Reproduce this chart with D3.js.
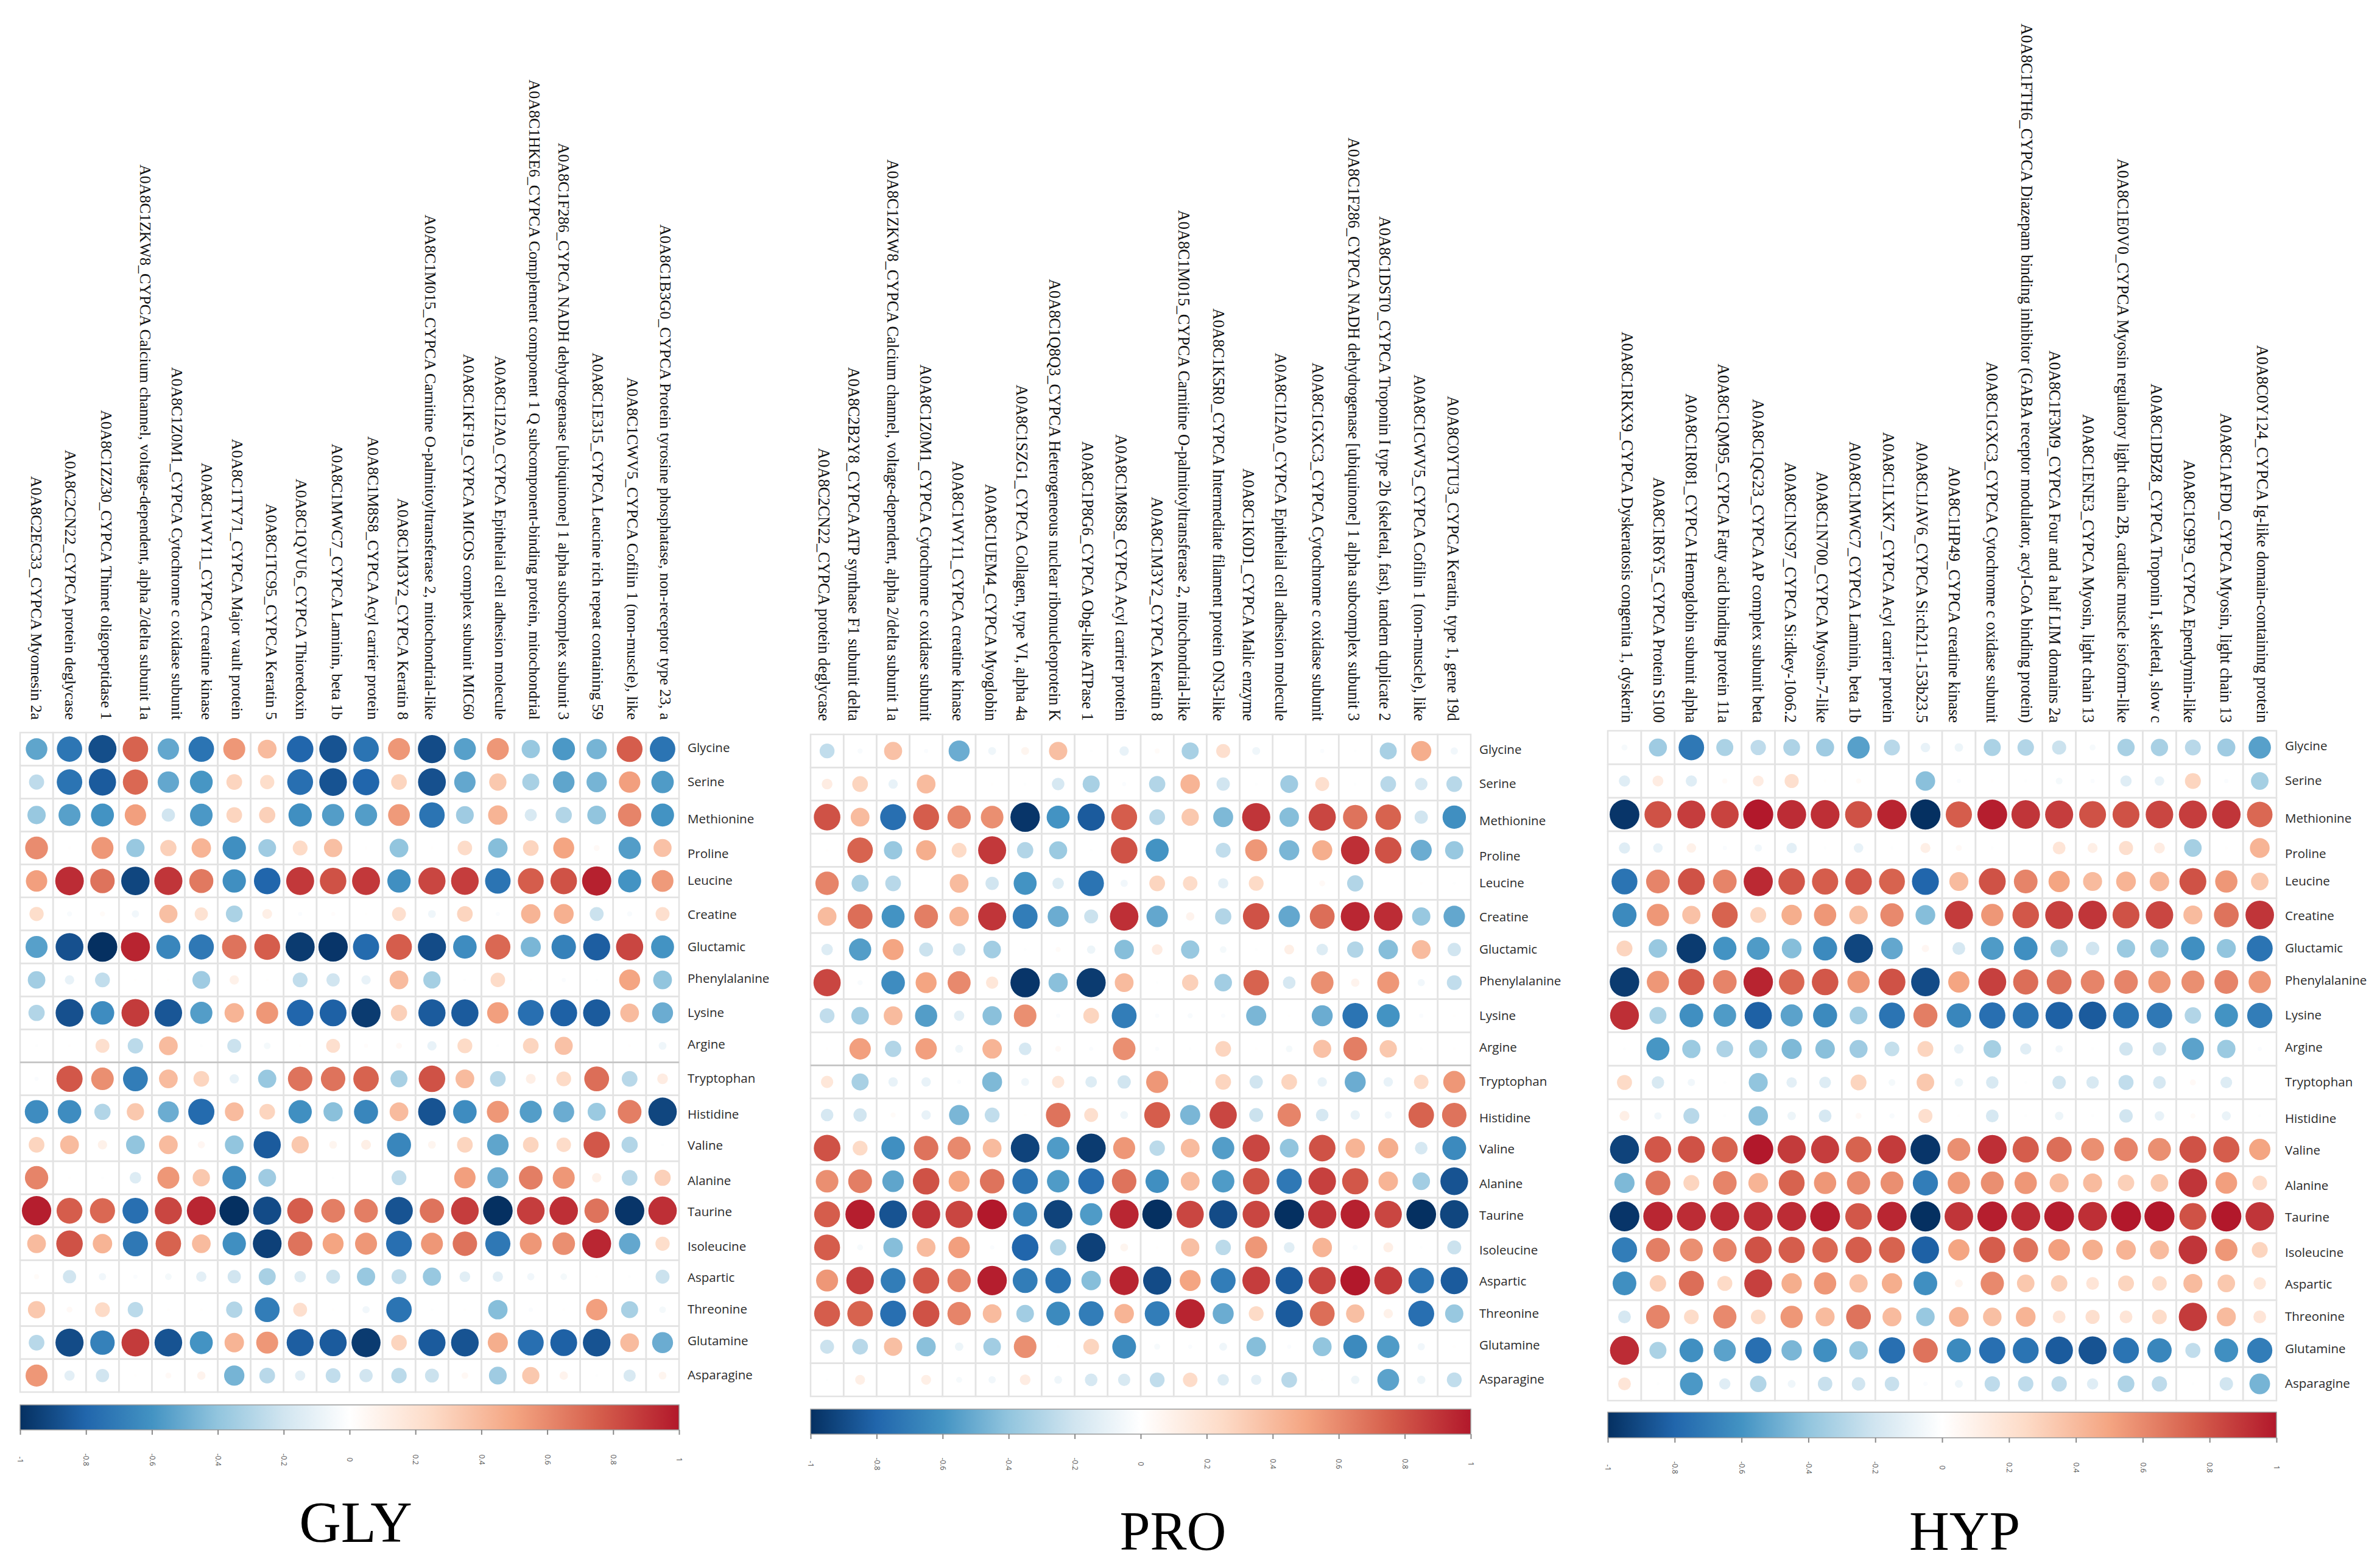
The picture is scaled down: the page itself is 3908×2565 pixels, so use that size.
<!DOCTYPE html>
<html>
<head>
<meta charset="utf-8">
<script src="https://cdn.jsdelivr.net/npm/d3@7"></script>
<style>
  html, body { margin: 0; background: #fff; }
  svg { display: block; }
</style>
</head>
<body>
<div id="chart"></div>
<script>
const aminoAcids = ["Glycine", "Serine", "Methionine", "Proline", "Leucine", "Creatine", "Gluctamic", "Phenylalanine", "Lysine", "Argine", "Tryptophan", "Histidine", "Valine", "Alanine", "Taurine", "Isoleucine", "Aspartic", "Threonine", "Glutamine", "Asparagine"];

const glyProteins = [
  "A0A8C2EC33_CYPCA Myomesin 2a",
  "A0A8C2CN22_CYPCA protein deglycase",
  "A0A8C1ZZ30_CYPCA Thimet oligopeptidase 1",
  "A0A8C1ZKW8_CYPCA Calcium channel, voltage-dependent, alpha 2/delta subunit 1a",
  "A0A8C1Z0M1_CYPCA Cytochrome c oxidase subunit",
  "A0A8C1WY11_CYPCA creatine kinase",
  "A0A8C1TY71_CYPCA Major vault protein",
  "A0A8C1TC95_CYPCA Keratin 5",
  "A0A8C1QVU6_CYPCA Thioredoxin",
  "A0A8C1MWC7_CYPCA Laminin, beta 1b",
  "A0A8C1M8S8_CYPCA Acyl carrier protein",
  "A0A8C1M3Y2_CYPCA Keratin 8",
  "A0A8C1M015_CYPCA Carnitine O-palmitoyltransferase 2, mitochondrial-like",
  "A0A8C1KF19_CYPCA MICOS complex subunit MIC60",
  "A0A8C1I2A0_CYPCA Epithelial cell adhesion molecule",
  "A0A8C1HKE6_CYPCA Complement component 1 Q subcomponent-binding protein, mitochondrial",
  "A0A8C1F286_CYPCA NADH dehydrogenase [ubiquinone] 1 alpha subcomplex subunit 3",
  "A0A8C1E315_CYPCA Leucine rich repeat containing 59",
  "A0A8C1CWV5_CYPCA Cofilin 1 (non-muscle), like",
  "A0A8C1B3G0_CYPCA Protein tyrosine phosphatase, non-receptor type 23, a"
];

const proProteins = [
  "A0A8C2CN22_CYPCA protein deglycase",
  "A0A8C2B2Y8_CYPCA ATP synthase F1 subunit delta",
  "A0A8C1ZKW8_CYPCA Calcium channel, voltage-dependent, alpha 2/delta subunit 1a",
  "A0A8C1Z0M1_CYPCA Cytochrome c oxidase subunit",
  "A0A8C1WY11_CYPCA creatine kinase",
  "A0A8C1UEM4_CYPCA Myoglobin",
  "A0A8C1SZG1_CYPCA Collagen, type VI, alpha 4a",
  "A0A8C1Q8Q3_CYPCA Heterogeneous nuclear ribonucleoprotein K",
  "A0A8C1P8G6_CYPCA Obg-like ATPase 1",
  "A0A8C1M8S8_CYPCA Acyl carrier protein",
  "A0A8C1M3Y2_CYPCA Keratin 8",
  "A0A8C1M015_CYPCA Carnitine O-palmitoyltransferase 2, mitochondrial-like",
  "A0A8C1K5R0_CYPCA Intermediate filament protein ON3-like",
  "A0A8C1K0D1_CYPCA Malic enzyme",
  "A0A8C1I2A0_CYPCA Epithelial cell adhesion molecule",
  "A0A8C1GXC3_CYPCA Cytochrome c oxidase subunit",
  "A0A8C1F286_CYPCA NADH dehydrogenase [ubiquinone] 1 alpha subcomplex subunit 3",
  "A0A8C1DST0_CYPCA Troponin I type 2b (skeletal, fast), tandem duplicate 2",
  "A0A8C1CWV5_CYPCA Cofilin 1 (non-muscle), like",
  "A0A8C0YTU3_CYPCA Keratin, type 1, gene 19d"
];

const hypProteins = [
  "A0A8C1RKX9_CYPCA Dyskeratosis congenita 1, dyskerin",
  "A0A8C1R6Y5_CYPCA Protein S100",
  "A0A8C1R081_CYPCA Hemoglobin subunit alpha",
  "A0A8C1QM95_CYPCA Fatty acid binding protein 11a",
  "A0A8C1QG23_CYPCA AP complex subunit beta",
  "A0A8C1NC97_CYPCA Si:dkey-10o6.2",
  "A0A8C1N700_CYPCA Myosin-7-like",
  "A0A8C1MWC7_CYPCA Laminin, beta 1b",
  "A0A8C1LXK7_CYPCA Acyl carrier protein",
  "A0A8C1JAV6_CYPCA Si:ch211-153b23.5",
  "A0A8C1HP49_CYPCA creatine kinase",
  "A0A8C1GXC3_CYPCA Cytochrome c oxidase subunit",
  "A0A8C1FTH6_CYPCA Diazepam binding inhibitor (GABA receptor modulator, acyl-CoA binding protein)",
  "A0A8C1F3M9_CYPCA Four and a half LIM domains 2a",
  "A0A8C1ENE3_CYPCA Myosin, light chain 13",
  "A0A8C1E0V0_CYPCA Myosin regulatory light chain 2B, cardiac muscle isoform-like",
  "A0A8C1DBZ8_CYPCA Troponin I, skeletal, slow c",
  "A0A8C1C9F9_CYPCA Ependymin-like",
  "A0A8C1AFD0_CYPCA Myosin, light chain 13",
  "A0A8C0Y124_CYPCA Ig-like domain-containing protein"
];

// one row per amino acid, one column per protein
const glyValues = [
  [-.53, -.73, -.89, .74, -.52, -.74, .55, .4, -.8, -.87, -.74, .55, -.9, -.55, .55, -.38, -.58, -.47, .76, -.74],
  [-.26, -.74, -.84, .72, -.52, -.59, .28, .23, -.76, -.87, -.8, .28, -.88, -.52, .34, -.33, -.53, -.47, .52, -.57],
  [-.38, -.55, -.6, .52, -.2, -.58, .28, .3, -.62, -.56, -.56, .54, -.74, -.36, .43, -.17, -.3, -.4, .62, -.6],
  [.59, .01, .55, -.38, .3, .43, -.62, -.36, .25, .38, .01, -.4, .01, .24, -.43, .28, .5, .04, -.56, .37],
  [.52, .93, .68, -.92, .9, .66, -.62, -.8, .89, .8, .89, -.62, .84, .87, -.74, .76, .8, .97, -.6, .54],
  [.23, -.03, .03, -.06, .38, .2, -.32, .11, -.02, .02, .01, .22, -.07, .28, -.02, .43, .45, -.22, -.03, .22],
  [-.55, -.88, -1, .96, -.66, -.72, .68, .76, -.96, -.98, -.78, .76, -.9, -.63, .72, -.46, -.68, -.83, .84, -.6],
  [-.35, -.1, -.25, .01, .01, -.36, .1, .01, -.25, -.2, -.1, .4, -.34, -.01, .24, .01, -.02, -.01, .5, -.4],
  [-.3, -.88, -.63, .88, -.86, -.56, .43, .55, -.8, -.82, -.96, .3, -.84, -.84, .52, -.76, -.82, -.84, .4, -.5],
  [-.01, .01, .22, -.27, .4, -.01, -.22, -.05, .01, .22, .02, .04, -.1, .25, -.01, .28, .37, 0, .01, -.07],
  [-.02, .78, .58, -.7, .4, .28, -.1, -.38, .68, .68, .74, -.33, .8, .4, -.28, .11, .25, .7, -.28, .13],
  [-.63, -.63, -.3, .34, -.5, -.78, .4, .28, -.62, -.42, -.66, .4, -.87, -.63, .55, -.56, -.5, -.37, .64, -.92],
  [.28, .4, .1, -.4, .4, .06, -.4, -.84, .34, .07, .11, -.66, .07, .28, -.53, .28, .24, .78, -.3, -.01],
  [.62, .01, -.01, -.15, .55, .34, -.64, -.36, 0, -.01, 0, -.25, 0, .52, -.5, .64, .55, .1, -.28, .3],
  [.98, .76, .72, -.76, .84, .95, -1, -.9, .76, .64, .64, -.87, .68, .87, -1, .87, .92, .68, -.98, .92],
  [.4, .8, .43, -.72, .74, .4, -.62, -.94, .68, .5, .55, -.76, .55, .68, -.72, .55, .58, .95, -.52, .23],
  [.03, -.2, -.06, -.02, -.05, -.12, -.2, -.33, -.15, -.22, -.38, -.25, -.38, -.13, -.12, -.06, -.05, .01, -.01, -.22],
  [.34, .04, .25, -.27, .01, .01, -.3, -.7, .22, .01, -.06, -.74, -.01, .01, -.43, -.02, .01, .52, -.33, -.05],
  [-.28, -.9, -.68, .88, -.87, -.6, .43, .55, -.83, -.84, -.96, .28, -.84, -.87, .46, -.76, -.82, -.87, .4, -.5],
  [.55, -.12, -.2, .01, .04, .08, -.47, -.28, -.12, -.25, -.2, -.27, -.22, .05, -.36, .34, .08, -.01, -.17, .07]
];

const proValues = [
  [-.25, -.03, .37, -.02, -.5, -.07, .07, .38, -.01, -.1, .03, -.33, .22, -.07, 0, -.02, -.01, -.33, .46, -.06],
  [.13, .28, -.1, .4, 0, .01, -.01, -.18, -.33, -.02, -.3, .43, -.2, -.01, -.36, .22, -.01, -.28, -.18, -.28],
  [.8, .4, -.76, .76, .62, .58, -.98, -.6, -.84, .76, -.28, .34, -.45, .9, -.43, .84, .68, .74, -.2, -.62],
  [.01, .74, -.38, .46, .25, .89, -.3, -.37, -.01, .8, -.6, 0, -.25, .55, -.46, .46, .92, .8, -.5, -.38],
  [.62, -.33, -.28, 0, .4, -.2, -.6, -.15, -.74, -.06, .28, .24, -.12, .25, 0, .04, -.3, 0, .01, -.01],
  [.4, .7, -.6, .64, .43, .9, -.7, -.5, -.22, .92, -.52, .08, -.3, .8, -.52, .7, .95, .93, -.38, -.52],
  [-.15, -.56, .5, -.22, -.18, -.35, -.01, .03, -.08, -.43, .13, -.38, -.05, -.01, .11, -.15, -.3, -.43, .4, -.2],
  [.84, -.03, -.63, .5, .6, .17, -.98, -.42, -.96, .4, -.01, .3, -.35, .74, -.18, .58, .08, .55, -.06, -.25],
  [-.25, -.35, .4, -.56, -.12, -.42, .58, -.02, .28, -.7, -.02, -.03, -.02, -.46, .01, -.5, -.74, -.6, -.02, .01],
  [.01, .52, -.3, .52, -.07, .43, -.18, .04, -.02, .58, -.02, -.01, .28, .01, -.05, .37, .64, .34, -.01, .01],
  [.17, -.33, -.1, -.1, -.02, -.45, -.07, .17, -.15, -.2, .55, .01, .28, -.2, .28, -.1, -.5, -.1, .24, .55],
  [-.18, -.2, .03, -.1, -.46, -.25, .01, .68, .22, -.07, .76, -.46, .84, -.22, .62, -.18, -.1, -.06, .74, .68],
  [.8, .25, -.62, .68, .6, .4, -.93, -.57, -.96, .55, -.27, .4, -.56, .84, -.4, .8, .43, .46, -.18, -.64],
  [.58, .64, -.53, .8, .5, .68, -.74, -.57, -.76, .68, -.62, .4, -.57, .8, -.72, .86, .78, .43, -.35, -.87],
  [.76, .98, -.87, .9, .84, 1, -.66, -.93, -.57, .95, -1, .84, -.9, .84, -1, .9, .97, .84, -1, -.92],
  [.76, -.04, -.43, .4, .52, -.02, -.8, -.3, -.94, .07, .01, .38, -.27, .55, -.13, .43, -.03, .11, -.01, -.22],
  [.55, .86, -.7, .78, .62, .98, -.7, -.74, -.43, .96, -.9, .5, -.7, .87, -.84, .84, 1, .88, -.74, -.84],
  [.76, .74, -.76, .8, .62, .4, -.35, -.64, -.7, .43, -.7, .96, -.5, .25, -.84, .7, .38, .1, -.76, -.38],
  [-.22, -.28, .38, -.42, -.08, -.35, .58, .01, .28, -.64, -.04, -.02, -.07, -.43, -.02, -.4, -.64, -.57, -.06, .01],
  [-.01, .11, 0, .11, -.04, -.06, .13, -.07, -.18, -.17, -.25, .24, -.15, -.12, -.28, .01, -.08, -.54, -.08, -.25]
];

const hypValues = [
  [-.04, -.36, -.72, -.32, -.26, -.31, -.36, -.55, -.28, -.1, -.08, -.32, -.3, -.22, -.04, -.33, -.33, -.28, -.36, -.55],
  [-.14, .13, -.14, .03, .13, .22, .01, .03, 0, -.42, -.02, .01, -.01, -.05, -.02, -.14, -.1, .28, -.02, -.34],
  [-.98, .8, .87, .85, 1, .93, .92, .8, .96, -1, .76, .98, .9, .87, .8, .8, .84, .87, .9, .72],
  [-.14, -.1, .1, -.02, -.06, -.12, -.01, -.1, -.01, .11, .04, -.01, 0, .18, .11, .22, .13, -.34, .01, .43],
  [-.74, .62, .8, .62, .94, .78, .76, .78, .74, -.8, .4, .8, .62, .5, .4, .43, .42, .8, .55, .34],
  [-.64, .55, .37, .74, .28, .46, .55, .38, .6, -.43, .88, .55, .78, .86, .9, .8, .84, .4, .68, .9],
  [.28, -.38, -.96, -.6, -.57, -.43, -.64, -.92, -.52, .06, -.18, -.57, -.62, -.33, -.2, -.37, -.37, -.62, -.4, -.74],
  [-.96, .55, .76, .62, .96, .72, .78, .55, .8, -.9, .5, .86, .7, .68, .62, .62, .55, .58, .62, .55],
  [.92, -.32, -.62, -.57, -.82, -.54, -.64, -.35, -.74, .64, -.66, -.76, -.74, -.82, -.84, -.74, -.72, -.3, -.6, -.7],
  [-.01, -.59, -.37, -.31, -.37, -.45, -.42, -.36, -.24, .28, -.1, -.34, -.14, -.06, -.01, -.2, -.2, -.54, -.37, -.02],
  [.25, -.17, -.06, -.01, -.4, -.12, -.15, .28, -.05, .34, -.08, -.17, -.01, -.2, -.17, -.25, -.18, .04, -.15, 0],
  [.11, -.06, -.28, -.01, -.42, -.08, -.18, .04, -.03, .22, .01, -.18, -.01, -.08, -.01, -.2, -.1, .03, -.09, -.01],
  [-.93, .78, .8, .74, 1, .88, .87, .74, .88, -.98, .58, .92, .76, .7, .58, .62, .58, .8, .76, .5],
  [-.45, .68, .28, .62, .43, .74, .55, .6, .58, -.7, .55, .58, .55, .4, .4, .3, .34, .9, .52, .24],
  [-.98, .95, .93, .93, .92, .93, .98, .78, .95, -1, .9, .98, .93, .98, .92, 1, 1, .8, 1, .9],
  [-.7, .64, .58, .62, .8, .76, .72, .76, .74, -.82, .5, .76, .68, .52, .46, .43, .4, .9, .55, .28],
  [-.62, .3, .7, .25, .86, .46, .55, .37, .46, -.62, .07, .6, .34, .3, .18, .28, .24, .4, .34, .17],
  [-.18, .62, .24, .6, .24, .55, .4, .68, .4, -.38, .43, .38, .43, .18, .22, .18, .24, .88, .4, .18],
  [.93, -.32, -.62, -.54, -.76, -.46, -.62, -.38, -.76, .68, -.64, -.76, -.74, -.84, -.87, -.74, -.66, -.25, -.62, -.7],
  [.18, -.01, -.58, -.14, -.3, -.07, -.23, -.2, -.23, -.02, -.07, -.26, -.26, -.26, -.14, -.31, -.26, -.01, -.2, -.47]
];

const legendTicks = [-1, -0.8, -0.6, -0.4, -0.2, 0, 0.2, 0.4, 0.6, 0.8, 1];
const colorStops = [-1, -0.8, -0.6, -0.4, -0.2, 0, 0.25, 0.5, 0.75, 1];
const palette = ["#053061", "#2166AC", "#4393C3", "#92C5DE", "#D1E5F0", "#FFFFFF", "#FDDBC7", "#F4A582", "#D6604D", "#B2182B"];

// the labels in the picture are not quite on the grid
const rowLabelShift = [-2, 0, 7, 10, 0, 2, 0, -2, 0, -2, 0, 5, 2, 5, 2, 5, 2, 0, -2, 0];
const glyLabelShift = [0, 2, 7, 17, 15, 10, 5, 7, 2, 7, 12, 7, -2, 7, 5, 7, 0, 2, 5, 5];
const proLabelShift = [-5, -10, 0, 0, -2, -2, -5, -5, -5, -5, 0, -10, -7, -12, -14, -7, -2, -5, -2, -2];
const hypLabelShift = [5, 2, 0, -2, 0, -2, -5, -5, -5, -5, -7, 0, 2, -7, -7, -5, -5, -5, 0, 5];

const width = 3908;
const height = 2565;

const color = d3.scaleLinear().domain(colorStops).range(palette);

const svg = d3.select("#chart").append("svg")
  .attr("width", width)
  .attr("height", height)
  .style("background", "#fff");

const grad = svg.append("defs").append("linearGradient").attr("id", "legendGrad");
colorStops.forEach((s, i) => {
  grad.append("stop").attr("offset", `${(s + 1) * 50}%`).attr("stop-color", palette[i]);
});

function drawPanel(title, proteins, values, labelShift, box) {
  const x = d3.scaleBand().domain(proteins).range([box.left, box.right]);
  const y = d3.scaleBand().domain(aminoAcids).range([box.top, box.bottom]);
  const r = d3.scaleSqrt().domain([0, 1]).range([0, x.bandwidth() * 0.45]);
  const g = svg.append("g");

  const cells = values.flatMap((row, i) => row.map((v, j) => ({
    protein: proteins[j],
    acid: aminoAcids[i],
    v
  })));

  g.append("g").selectAll("rect").data(cells).join("rect")
    .attr("x", d => x(d.protein))
    .attr("y", d => y(d.acid))
    .attr("width", x.bandwidth())
    .attr("height", y.bandwidth())
    .attr("fill", "none")
    .attr("stroke", "#e3e3e3")
    .attr("stroke-width", 2.5);

  if (box.heavyRow) {
    g.append("line")
      .attr("x1", box.left)
      .attr("x2", box.right)
      .attr("y1", y(box.heavyRow))
      .attr("y2", y(box.heavyRow))
      .attr("stroke", "#c2c2c2")
      .attr("stroke-width", 2.5);
  }

  g.append("g").selectAll("circle").data(cells).join("circle")
    .attr("cx", d => x(d.protein) + x.bandwidth() / 2)
    .attr("cy", d => y(d.acid) + y.bandwidth() / 2)
    .attr("r", d => r(Math.abs(d.v)))
    .attr("fill", d => color(d.v));

  // protein names, read top to bottom
  const topAxis = g.append("g")
    .attr("transform", `translate(0,${box.top - box.labelGap})`)
    .call(d3.axisTop(x).tickSize(0));
  topAxis.select(".domain").remove();
  topAxis.selectAll("text")
    .attr("transform", (d, i) => `translate(${labelShift[i]},0) rotate(90)`)
    .attr("x", 0)
    .attr("y", 0)
    .attr("dy", "0.35em")
    .attr("text-anchor", "end")
    .attr("font-family", "'Liberation Serif', serif")
    .attr("font-size", box.labelSize)
    .attr("fill", "#111");

  const rightAxis = g.append("g")
    .attr("transform", `translate(${box.right},0)`)
    .call(d3.axisRight(y).tickSize(0).tickPadding(14));
  rightAxis.select(".domain").remove();
  rightAxis.selectAll("text")
    .attr("y", (d, i) => rowLabelShift[i])
    .attr("font-family", "'Open Sans', sans-serif")
    .attr("font-size", 20.5)
    .attr("font-weight", 500)
    .attr("fill", "#2a2a2a");

  // colour bar
  const scale = d3.scaleLinear().domain([-1, 1]).range([box.left, box.right]);
  g.append("rect")
    .attr("x", box.left)
    .attr("y", box.barTop)
    .attr("width", box.right - box.left)
    .attr("height", box.barBottom - box.barTop)
    .attr("fill", "url(#legendGrad)")
    .attr("stroke", "#999")
    .attr("stroke-width", 1.5);

  const barAxis = g.append("g")
    .attr("transform", `translate(0,${box.barBottom})`)
    .call(d3.axisBottom(scale).tickValues(legendTicks).tickFormat(d => d).tickSize(8).tickPadding(0));
  barAxis.select(".domain").remove();
  barAxis.selectAll("line").attr("stroke", "#888").attr("stroke-width", 2);
  barAxis.selectAll("text")
    .attr("transform", "rotate(90)")
    .attr("x", 49)
    .attr("y", 0)
    .attr("dy", "0.35em")
    .attr("text-anchor", "middle")
    .attr("font-family", "'Open Sans', sans-serif")
    .attr("font-size", 12)
    .attr("fill", "#555");

  g.append("text")
    .attr("x", box.titleX)
    .attr("y", box.titleY)
    .attr("text-anchor", "middle")
    .attr("font-family", "'Liberation Serif', serif")
    .attr("font-size", box.titleSize)
    .attr("fill", "#000")
    .text(title);
}

drawPanel("GLY", glyProteins, glyValues, glyLabelShift, {
  left: 33, right: 1115, top: 1203, bottom: 2286,
  barTop: 2307, barBottom: 2348, labelGap: 21, labelSize: 26,
  titleX: 584, titleY: 2532, titleSize: 95, heavyRow: "Tryptophan"
});
drawPanel("PRO", proProteins, proValues, proLabelShift, {
  left: 1331, right: 2415, top: 1206, bottom: 2293,
  barTop: 2314, barBottom: 2355, labelGap: 22, labelSize: 26.3,
  titleX: 1926, titleY: 2545, titleSize: 90, heavyRow: "Tryptophan"
});
drawPanel("HYP", hypProteins, hypValues, hypLabelShift, {
  left: 2640, right: 3738, top: 1200, bottom: 2300,
  barTop: 2319, barBottom: 2361, labelGap: 13, labelSize: 26.5,
  titleX: 3226, titleY: 2545, titleSize: 91
});
</script>
</body>
</html>
